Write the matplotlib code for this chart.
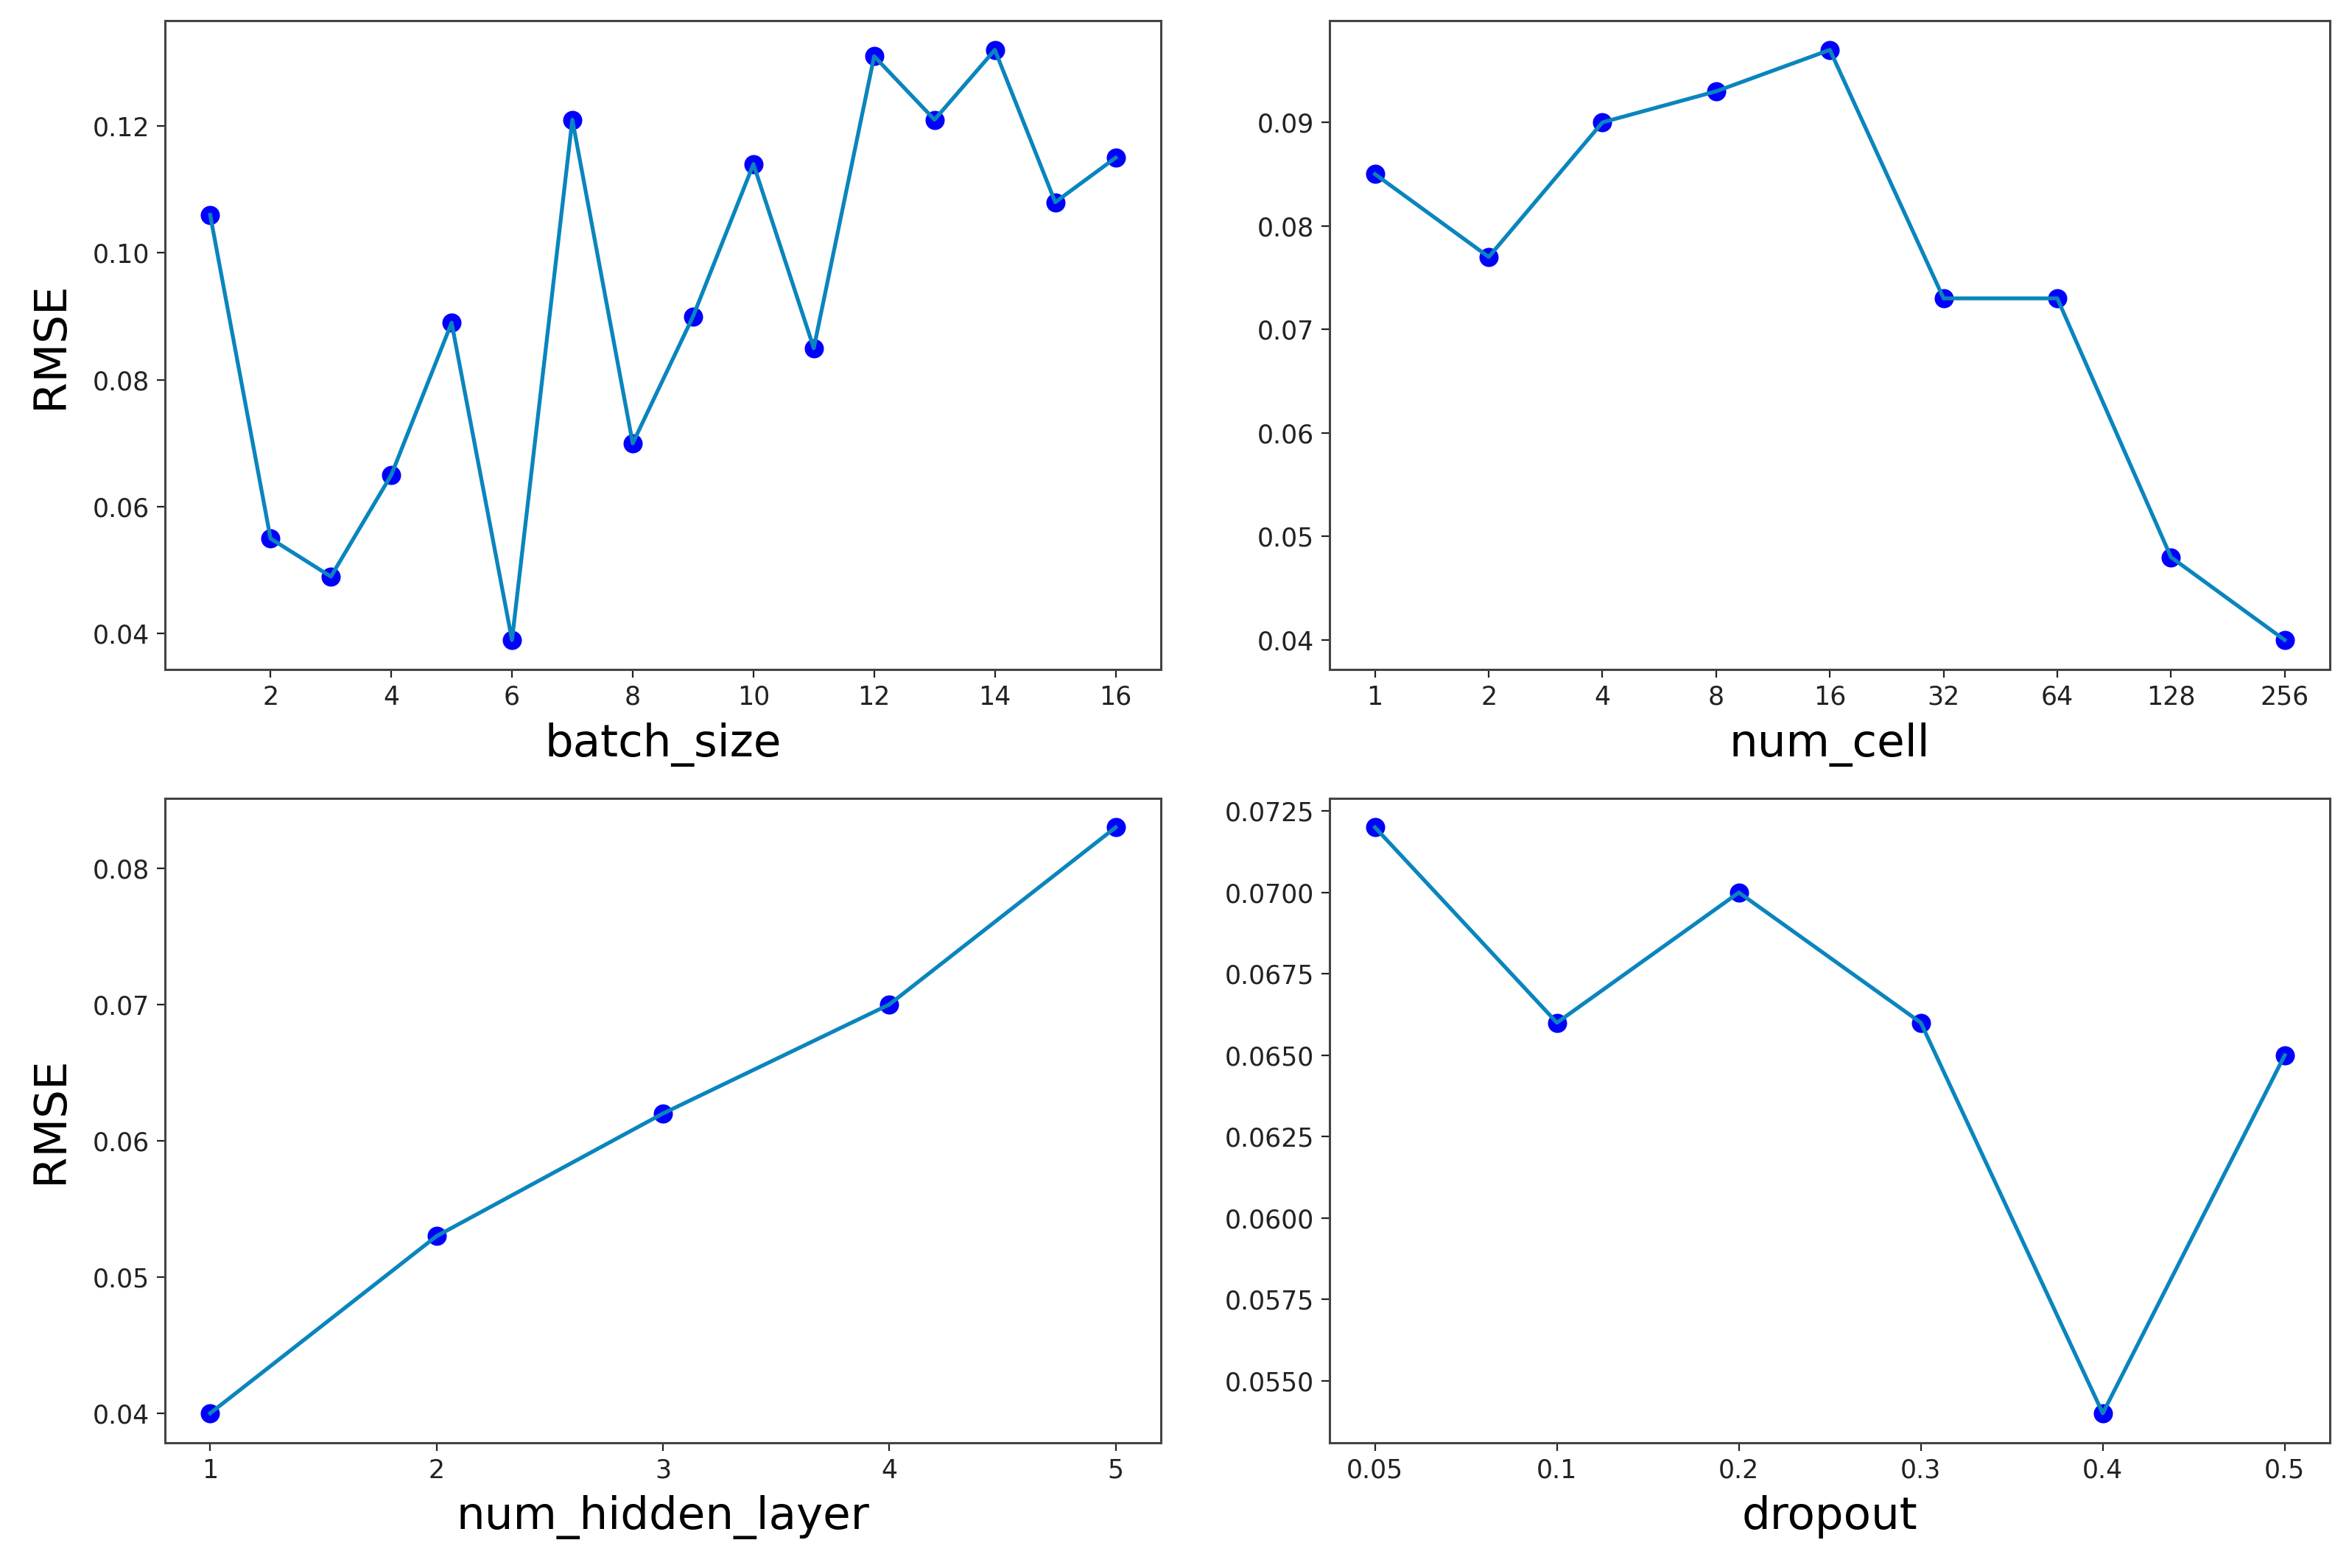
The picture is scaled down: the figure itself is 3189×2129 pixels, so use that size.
import numpy as np
import matplotlib
matplotlib.use("Agg")
import matplotlib.pyplot as plt

# values
batch_size = list(range(1, 17))
rmse_batch = [0.106, 0.055, 0.049, 0.065, 0.089, 0.039, 0.121, 0.070,
              0.090, 0.114, 0.085, 0.131, 0.121, 0.132, 0.108, 0.115]

num_cell_labels = ['1', '2', '4', '8', '16', '32', '64', '128', '256']
rmse_cell = [0.085, 0.077, 0.090, 0.093, 0.097, 0.073, 0.073, 0.048, 0.040]

num_layer = [1, 2, 3, 4, 5]
rmse_layer = [0.040, 0.053, 0.062, 0.070, 0.083]

dropout_labels = ['0.05', '0.1', '0.2', '0.3', '0.4', '0.5']
rmse_dropout = [0.072, 0.066, 0.070, 0.066, 0.054, 0.065]

LINE_C = '#0a85bd'
DOT_C = '#0000ff'

fig = plt.figure(figsize=(15.945, 10.645), dpi=200)

ax1 = fig.add_axes([0.0702, 0.573, 0.424, 0.414])
ax2 = fig.add_axes([0.566, 0.573, 0.426, 0.414])
ax3 = fig.add_axes([0.0702, 0.080, 0.424, 0.411])
ax4 = fig.add_axes([0.566, 0.080, 0.426, 0.411])


def draw(ax, x, y):
    ax.scatter(x, y, s=70, color=DOT_C, zorder=2)
    ax.plot(x, y, color=LINE_C, lw=1.9, zorder=3)
    ax.tick_params(labelsize=12.5, colors='#222222', length=4)
    for sp in ax.spines.values():
        sp.set_color('#444444')
        sp.set_linewidth(1.1)


draw(ax1, batch_size, rmse_batch)
ax1.set_xticks(range(2, 17, 2))
ax1.set_xlabel('batch_size', fontsize=22, labelpad=6)
ax1.set_ylabel('RMSE', fontsize=22, labelpad=10)

draw(ax2, np.arange(len(num_cell_labels)), rmse_cell)
ax2.set_xticks(np.arange(len(num_cell_labels)))
ax2.set_xticklabels(num_cell_labels)
ax2.set_xlabel('num_cell', fontsize=22, labelpad=6)

draw(ax3, num_layer, rmse_layer)
ax3.set_xticks(num_layer)
ax3.set_xlabel('num_hidden_layer', fontsize=22, labelpad=6)
ax3.set_ylabel('RMSE', fontsize=22, labelpad=10)

draw(ax4, np.arange(len(dropout_labels)), rmse_dropout)
ax4.set_xticks(np.arange(len(dropout_labels)))
ax4.set_xticklabels(dropout_labels)
ax4.set_xlabel('dropout', fontsize=22, labelpad=6)

fig.savefig('out.png', dpi=200)
